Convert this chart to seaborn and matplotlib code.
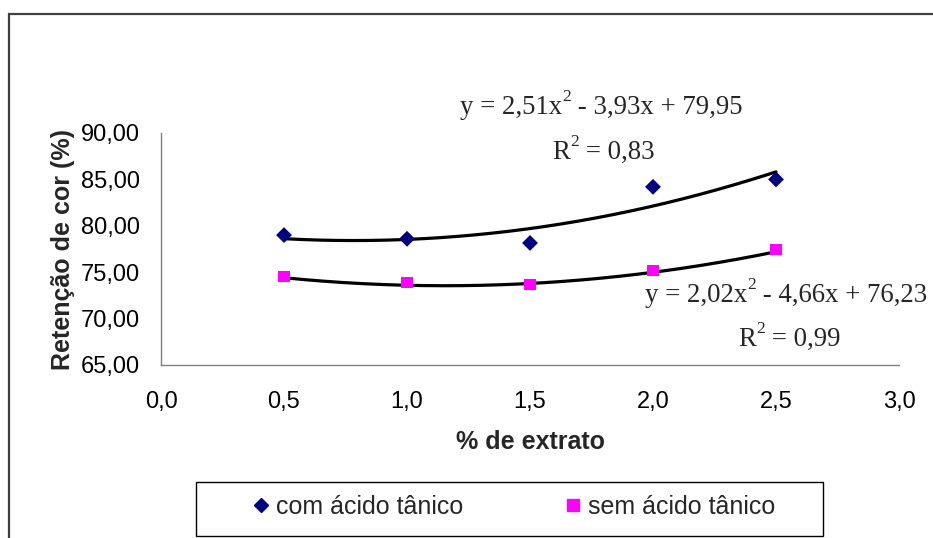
import numpy as np
import pandas as pd
import matplotlib
matplotlib.use("Agg")
import matplotlib.pyplot as plt
from matplotlib.patches import Rectangle
from matplotlib.ticker import FuncFormatter
import seaborn as sns

# Dados
extrato = [0.5, 1.0, 1.5, 2.0, 2.5]
com_acido = [79.0, 78.6, 78.15, 84.2, 85.0]
sem_acido = [74.5, 73.9, 73.7, 75.15, 77.45]
series_names = ["com ácido tânico", "sem ácido tânico"]

# Coeficientes das linhas de tendência polinomiais (a, b, c)
coef_com = [2.51, -3.93, 79.95]
coef_sem = [2.02, -4.66, 76.23]
r2_com = 0.83
r2_sem = 0.99

x_ticks = [0.0, 0.5, 1.0, 1.5, 2.0, 2.5, 3.0]
y_ticks = [65, 70, 75, 80, 85, 90]

sns.set_theme(style="white")
plt.rcParams["font.family"] = ["Liberation Sans", "DejaVu Sans"]

W, H = 933, 538
fig = plt.figure(figsize=(W / 100, H / 100), dpi=100)
ax = fig.add_axes([161 / W, 1 - 365 / H, (899 - 161) / W, (365 - 133) / H])

df = pd.DataFrame({
    "x": extrato * 2,
    "y": com_acido + sem_acido,
    "serie": [series_names[0]] * 5 + [series_names[1]] * 5,
})

# Linhas de tendência
xs = np.linspace(min(extrato), max(extrato), 200)
for coef in (coef_com, coef_sem):
    ys = np.polyval(coef, xs)
    sns.lineplot(x=xs, y=ys, ax=ax, color="black", linewidth=2.3, zorder=2)

sns.scatterplot(
    data=df, x="x", y="y", hue="serie", style="serie",
    markers={series_names[0]: "D", series_names[1]: "s"},
    palette={series_names[0]: "#000080", series_names[1]: "#FF00FF"},
    s=65, linewidth=0, ax=ax, zorder=3, legend=False,
)

ax.set_xlim(0, 3.0)
ax.set_ylim(65, 90)
ax.set_xticks(x_ticks)
ax.set_yticks(y_ticks)
ax.xaxis.set_major_formatter(FuncFormatter(lambda v, p: f"{v:.1f}".replace(".", ",")))
ax.yaxis.set_major_formatter(FuncFormatter(lambda v, p: f"{v:.2f}".replace(".", ",")))
ax.tick_params(axis="both", direction="out", length=4, width=0.9, colors="#404040",
               labelcolor="black", labelsize=17)
ax.tick_params(axis="x", pad=15)
ax.tick_params(axis="y", pad=11)
for side in ("top", "right"):
    ax.spines[side].set_visible(False)
for side in ("left", "bottom"):
    ax.spines[side].set_color("#808080")
    ax.spines[side].set_linewidth(1.0)
ax.grid(False)

ax.set_xlabel("% de extrato", fontsize=18, fontweight="bold", labelpad=12)
ax.set_ylabel("Retenção de cor (%)", fontsize=18, fontweight="bold", labelpad=4)

# Equações das linhas de tendência (texto com expoente elevado)
SERIF = ["Liberation Serif", "DejaVu Serif"]
EQ_SIZE = 19.3
renderer = fig.canvas.get_renderer()


def text_width(s, size):
    t = fig.text(0, 0, s, family=SERIF, fontsize=size)
    w = t.get_window_extent(renderer).width
    t.remove()
    return w


def sup_text(cx, cy, pre, sup, post):
    """Escreve pre + sup (expoente) + post centrado em (cx, cy) em pixels."""
    sup_size = EQ_SIZE * 0.65
    w_pre, w_sup, w_post = (text_width(pre, EQ_SIZE), text_width(sup, sup_size),
                            text_width(post, EQ_SIZE))
    x0 = cx - (w_pre + w_sup + w_post) / 2
    kw = dict(family=SERIF, ha="left", va="baseline")
    base = 1 - cy / H
    fig.text(x0 / W, base, pre, fontsize=EQ_SIZE, **kw)
    fig.text((x0 + w_pre) / W, base + 13 / H, sup, fontsize=sup_size, **kw)
    fig.text((x0 + w_pre + w_sup) / W, base, post, fontsize=EQ_SIZE, **kw)


def fmt(v):
    return f"{v:.2f}".replace(".", ",")


def eq_parts(c):
    a, b, k = c
    sb = "-" if b < 0 else "+"
    return f"y = {fmt(a)}x", "2", f" {sb} {fmt(abs(b))}x + {fmt(k)}"


sup_text(601, 114, *eq_parts(coef_com))
sup_text(603, 159, "R", "2", f" = {fmt(r2_com)}")
sup_text(786, 302, *eq_parts(coef_sem))
sup_text(789, 346, "R", "2", f" = {fmt(r2_sem)}")

# Legenda
handles = [
    plt.Line2D([], [], marker="D", linestyle="none", color="#000080", markersize=7.5),
    plt.Line2D([], [], marker="s", linestyle="none", color="#FF00FF", markersize=8),
]
leg = fig.legend(handles, series_names, ncol=2, loc="center",
                 bbox_to_anchor=(513 / W, 1 - 507 / H),
                 frameon=False, fontsize=18, handletextpad=0.2, handlelength=0.8,
                 columnspacing=4.0, borderaxespad=0)
fig.patches.append(Rectangle((196 / W, 1 - 536 / H), (823 - 196) / W, (536 - 482) / H,
                             transform=fig.transFigure, fill=False,
                             edgecolor="black", linewidth=1.0))

# Moldura externa do gráfico
fig.patches.append(Rectangle((9 / W, -0.05), 1.1, 1 - 14 / H + 0.05, transform=fig.transFigure,
                             fill=False, edgecolor="#404040", linewidth=1.6))

fig.savefig("out.png", dpi=100)
